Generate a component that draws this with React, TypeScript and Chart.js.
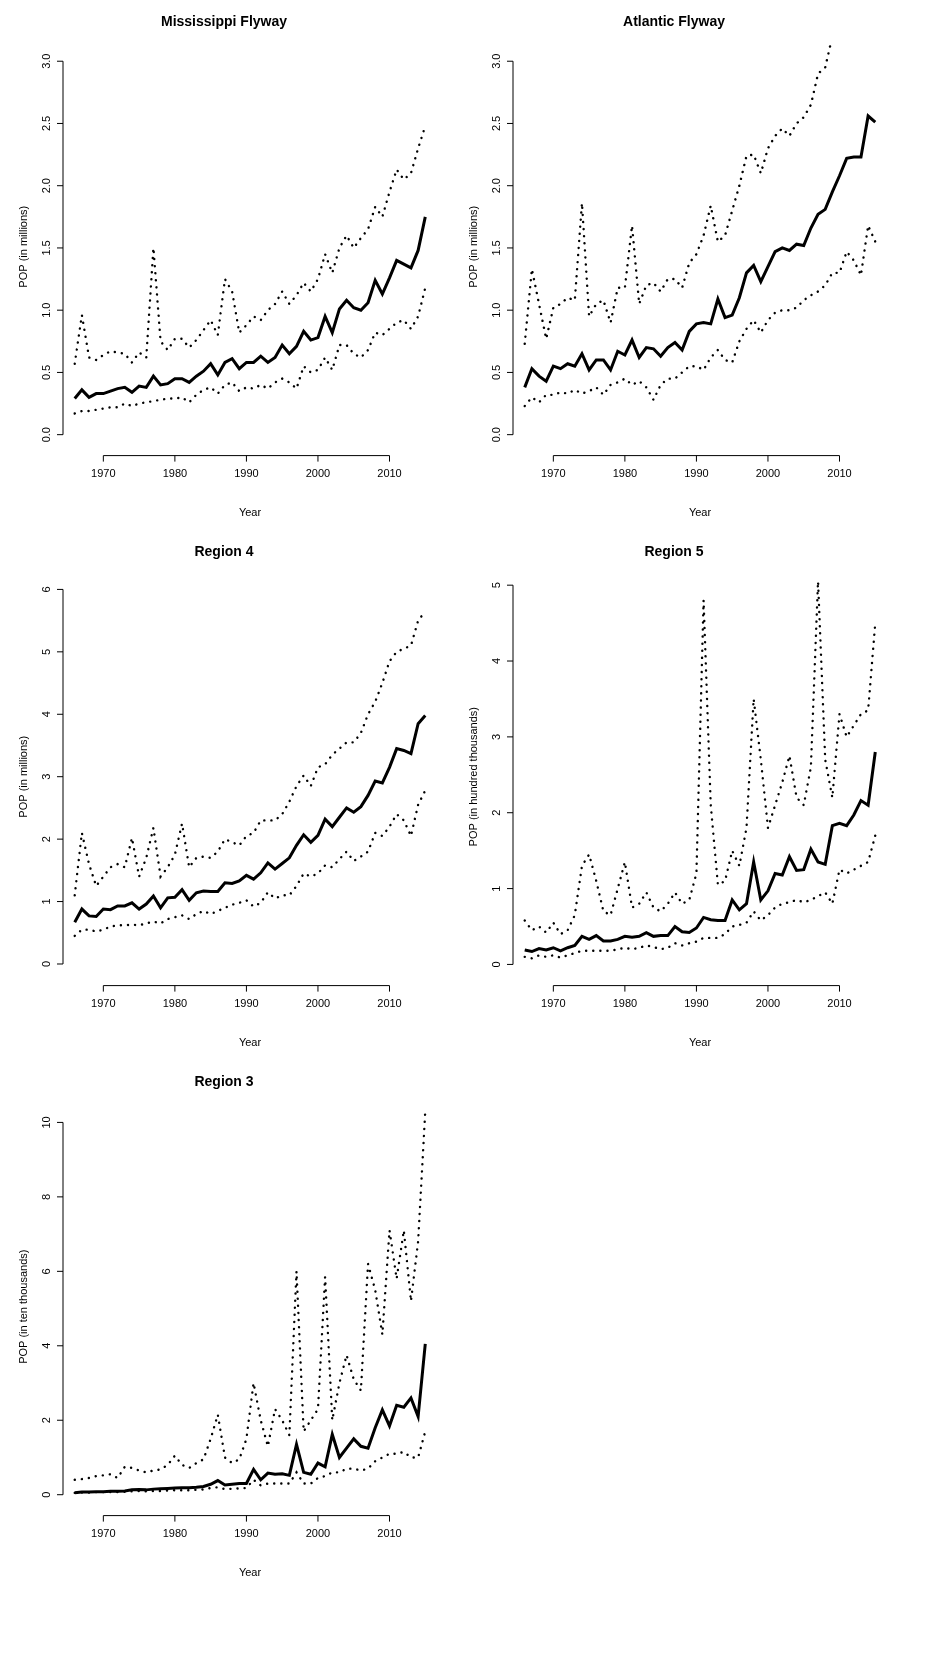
import { useEffect, useRef } from "react"
import { Chart, registerables } from "chart.js"

Chart.register(...registerables)

const years = Array.from({ length: 50 }, (_, i) => 1966 + i)
const yearTicks = [1970, 1980, 1990, 2000, 2010]

const missEst = [0.29, 0.36, 0.3, 0.33, 0.33, 0.35, 0.37, 0.38, 0.34, 0.39, 0.38, 0.47, 0.4, 0.41, 0.45, 0.45, 0.42, 0.47, 0.51, 0.57, 0.48, 0.58, 0.61, 0.53, 0.58, 0.58, 0.63, 0.58, 0.62, 0.72, 0.65, 0.71, 0.83, 0.76, 0.78, 0.95, 0.82, 1.01, 1.08, 1.02, 1.0, 1.06, 1.24, 1.13, 1.26, 1.4, 1.37, 1.34, 1.48, 1.75]
const missHi = [0.57, 0.96, 0.62, 0.6, 0.64, 0.67, 0.66, 0.65, 0.58, 0.66, 0.62, 1.5, 0.75, 0.68, 0.77, 0.77, 0.7, 0.76, 0.84, 0.92, 0.8, 1.25, 1.15, 0.82, 0.88, 0.95, 0.92, 1.0, 1.05, 1.15, 1.05, 1.12, 1.22, 1.15, 1.25, 1.45, 1.3, 1.5, 1.6, 1.5, 1.58, 1.65, 1.83, 1.75, 1.95, 2.13, 2.05, 2.1, 2.3, 2.48]
const missLo = [0.17, 0.19, 0.19, 0.2, 0.21, 0.22, 0.22, 0.25, 0.23, 0.25, 0.26, 0.27, 0.28, 0.29, 0.29, 0.3, 0.26, 0.32, 0.36, 0.38, 0.33, 0.4, 0.42, 0.35, 0.38, 0.37, 0.4, 0.37, 0.42, 0.45, 0.42, 0.37, 0.55, 0.5, 0.52, 0.62, 0.52, 0.72, 0.72, 0.65, 0.62, 0.68, 0.82, 0.8, 0.85, 0.9, 0.92, 0.85, 0.95, 1.18]

const atlEst = [0.38, 0.53, 0.47, 0.43, 0.55, 0.53, 0.57, 0.55, 0.65, 0.52, 0.6, 0.6, 0.52, 0.67, 0.64, 0.76, 0.62, 0.7, 0.69, 0.63, 0.7, 0.74, 0.68, 0.83, 0.89, 0.9, 0.89, 1.09, 0.94, 0.96, 1.1, 1.3, 1.36, 1.23, 1.35, 1.47, 1.5, 1.48, 1.53, 1.52, 1.66, 1.77, 1.81, 1.95, 2.08, 2.22, 2.23, 2.23, 2.56, 2.51]
const atlHi = [0.73, 1.33, 1.05, 0.77, 1.02, 1.05, 1.1, 1.08, 1.86, 0.95, 1.05, 1.08, 0.9, 1.18, 1.18, 1.68, 1.05, 1.2, 1.22, 1.15, 1.25, 1.25, 1.18, 1.38, 1.45, 1.6, 1.84, 1.55, 1.6, 1.8, 2.0, 2.24, 2.25, 2.1, 2.3, 2.4, 2.46, 2.4, 2.5, 2.55, 2.65, 2.9, 2.95, 3.2, 3.4, 3.6, 3.7, 3.8, 3.9, 4.0]
const atlLo = [0.23, 0.3, 0.26, 0.32, 0.32, 0.34, 0.33, 0.36, 0.33, 0.35, 0.38, 0.32, 0.4, 0.42, 0.45, 0.4, 0.43, 0.38, 0.28, 0.4, 0.45, 0.45, 0.5, 0.55, 0.55, 0.52, 0.62, 0.68, 0.6, 0.58, 0.75, 0.85, 0.92, 0.82, 0.92, 0.98, 1.0, 1.0, 1.02, 1.08, 1.12, 1.15, 1.2, 1.3, 1.3, 1.47, 1.4, 1.28, 1.68, 1.55]

const r4Est = [0.67, 0.88, 0.77, 0.76, 0.88, 0.87, 0.93, 0.93, 0.98, 0.88, 0.96, 1.09, 0.9, 1.06, 1.07, 1.19, 1.02, 1.14, 1.17, 1.16, 1.16, 1.3, 1.29, 1.33, 1.42, 1.36, 1.46, 1.62, 1.52, 1.61, 1.7, 1.9, 2.07, 1.95, 2.06, 2.32, 2.2, 2.35, 2.5, 2.43, 2.52, 2.7, 2.93, 2.9, 3.15, 3.45, 3.42, 3.37, 3.85, 3.98]
const r4Hi = [1.1, 2.1, 1.6, 1.25, 1.4, 1.55, 1.6, 1.55, 2.02, 1.4, 1.7, 2.18, 1.4, 1.55, 1.75, 2.25, 1.55, 1.7, 1.72, 1.7, 1.8, 2.0, 1.95, 1.9, 2.05, 2.1, 2.3, 2.3, 2.3, 2.4, 2.6, 2.85, 3.02, 2.85, 3.15, 3.2, 3.35, 3.45, 3.55, 3.55, 3.7, 4.0, 4.2, 4.5, 4.85, 5.0, 5.05, 5.1, 5.5, 5.65]
const r4Lo = [0.45, 0.55, 0.55, 0.52, 0.55, 0.6, 0.62, 0.62, 0.63, 0.62, 0.65, 0.68, 0.65, 0.72, 0.75, 0.78, 0.72, 0.8, 0.85, 0.8, 0.85, 0.9, 0.95, 0.98, 1.02, 0.92, 0.98, 1.15, 1.05, 1.1, 1.1, 1.25, 1.45, 1.4, 1.45, 1.58, 1.55, 1.68, 1.8, 1.65, 1.72, 1.8, 2.1, 2.05, 2.2, 2.4, 2.3, 2.05, 2.55, 2.78]

const r5Est = [0.19, 0.17, 0.21, 0.19, 0.22, 0.18, 0.22, 0.25, 0.37, 0.33, 0.38, 0.31, 0.31, 0.33, 0.37, 0.36, 0.37, 0.42, 0.37, 0.38, 0.38, 0.5, 0.43, 0.42, 0.48, 0.62, 0.59, 0.58, 0.58, 0.85, 0.72, 0.8, 1.35, 0.85, 0.97, 1.2, 1.18, 1.42, 1.24, 1.25, 1.52, 1.35, 1.32, 1.83, 1.86, 1.83, 1.97, 2.16, 2.1, 2.8]
const r5Hi = [0.58, 0.45, 0.5, 0.42, 0.55, 0.4, 0.45, 0.65, 1.3, 1.45, 1.1, 0.7, 0.65, 1.0, 1.35, 0.75, 0.8, 0.95, 0.75, 0.7, 0.8, 0.95, 0.8, 0.85, 1.2, 4.8, 2.1, 1.05, 1.1, 1.5, 1.3, 1.8, 3.5, 2.7, 1.8, 2.1, 2.4, 2.75, 2.2, 2.1, 2.6, 5.05, 2.7, 2.2, 3.3, 3.0, 3.15, 3.3, 3.35, 4.5]
const r5Lo = [0.1, 0.08, 0.12, 0.1, 0.12, 0.09, 0.12, 0.15, 0.18, 0.18, 0.18, 0.18, 0.18, 0.2, 0.22, 0.2, 0.22, 0.25, 0.23, 0.2, 0.22, 0.28, 0.25, 0.28, 0.3, 0.35, 0.35, 0.35, 0.4, 0.5, 0.52, 0.55, 0.7, 0.58, 0.65, 0.75, 0.8, 0.82, 0.85, 0.82, 0.85, 0.9, 0.95, 0.8, 1.25, 1.2, 1.25, 1.3, 1.35, 1.7]

const r3Est = [0.05, 0.07, 0.07, 0.08, 0.08, 0.09, 0.09, 0.1, 0.13, 0.14, 0.13, 0.15, 0.16, 0.17, 0.18, 0.19, 0.19, 0.2, 0.22, 0.28, 0.38, 0.26, 0.28, 0.3, 0.3, 0.68, 0.4, 0.58, 0.55, 0.56, 0.52, 1.35, 0.6, 0.55, 0.85, 0.75, 1.62, 1.0, 1.25, 1.5, 1.3, 1.25, 1.8, 2.28, 1.85, 2.4, 2.35, 2.6, 2.1, 4.05]
const r3Hi = [0.4, 0.42, 0.45, 0.5, 0.52, 0.55, 0.45, 0.75, 0.72, 0.65, 0.6, 0.65, 0.68, 0.8, 1.05, 0.8, 0.72, 0.85, 0.95, 1.5, 2.15, 1.0, 0.85, 0.95, 1.5, 3.0, 2.0, 1.3, 2.3, 2.0, 1.6, 6.0, 1.7, 2.0, 2.3, 5.85, 2.0, 3.0, 3.75, 3.1, 2.8, 6.2, 5.5, 4.3, 7.1, 5.8, 7.1, 5.2, 6.8, 10.3]
const r3Lo = [0.05, 0.06, 0.06, 0.07, 0.07, 0.07, 0.07, 0.08, 0.09, 0.1, 0.09, 0.1, 0.1, 0.11, 0.12, 0.12, 0.12, 0.13, 0.14, 0.18, 0.2, 0.15, 0.16, 0.17, 0.18, 0.4, 0.25, 0.3, 0.3, 0.3, 0.3, 0.6, 0.3, 0.3, 0.45, 0.5, 0.6, 0.6, 0.7, 0.7, 0.65, 0.7, 0.9, 1.0, 1.1, 1.1, 1.15, 1.0, 1.0, 1.7]

const FONT = "'Liberation Sans', Arial, sans-serif"

interface PanelProps {
  title: string
  ylabel: string
  est: number[]
  hi: number[]
  lo: number[]
  ymin: number
  ymax: number
  yticks: number[]
  digits: number
}

// R-style detached axes with rotated y labels
const rAxes = {
  id: "rAxes",
  afterDraw(chart: any, _args: any, opts: any) {
    const { ctx, chartArea, scales } = chart
    const x = scales.x
    const y = scales.y
    ctx.save()
    ctx.strokeStyle = "#000"
    ctx.fillStyle = "#000"
    ctx.lineWidth = 1
    ctx.font = `11px ${FONT}`
    const ax = chartArea.left - 6
    const t0 = y.getPixelForValue(opts.yticks[0])
    const t1 = y.getPixelForValue(opts.yticks[opts.yticks.length - 1])
    ctx.beginPath()
    ctx.moveTo(ax, t0)
    ctx.lineTo(ax, t1)
    opts.yticks.forEach((v: number) => {
      const p = y.getPixelForValue(v)
      ctx.moveTo(ax, p)
      ctx.lineTo(ax - 6, p)
    })
    const ay = chartArea.bottom + 6
    const x0 = x.getPixelForValue(yearTicks[0])
    const x1 = x.getPixelForValue(yearTicks[yearTicks.length - 1])
    ctx.moveTo(x0, ay)
    ctx.lineTo(x1, ay)
    yearTicks.forEach((v) => {
      const p = x.getPixelForValue(v)
      ctx.moveTo(p, ay)
      ctx.lineTo(p, ay + 6)
    })
    ctx.stroke()
    opts.yticks.forEach((v: number) => {
      const p = y.getPixelForValue(v)
      ctx.save()
      ctx.translate(ax - 16, p)
      ctx.rotate(-Math.PI / 2)
      ctx.textAlign = "center"
      ctx.textBaseline = "middle"
      ctx.fillText(v.toFixed(opts.digits), 0, 0)
      ctx.restore()
    })
    ctx.restore()
  },
}

function Panel({ title, ylabel, est, hi, lo, ymin, ymax, yticks, digits }: PanelProps) {
  const ref = useRef<HTMLCanvasElement>(null)

  useEffect(() => {
    if (!ref.current) return
    const dotted = {
      borderColor: "#000",
      borderWidth: 2.4,
      borderDash: [0.1, 7],
      borderCapStyle: "round" as const,
      pointRadius: 0,
      tension: 0,
    }
    const chart = new Chart(ref.current, {
      type: "line",
      data: {
        datasets: [
          { data: years.map((yr, i) => ({ x: yr, y: hi[i] })), ...dotted },
          { data: years.map((yr, i) => ({ x: yr, y: lo[i] })), ...dotted },
          {
            data: years.map((yr, i) => ({ x: yr, y: est[i] })),
            borderColor: "#000",
            borderWidth: 3,
            pointRadius: 0,
            tension: 0,
          },
        ],
      },
      plugins: [rAxes],
      options: {
        animation: false,
        responsive: false,
        layout: { padding: { top: 2, right: 25, left: 9, bottom: 14 } },
        scales: {
          x: {
            type: "linear",
            min: 1965.2,
            max: 2015.8,
            grid: { display: false },
            border: { display: false },
            afterBuildTicks: (s: any) => {
              s.ticks = yearTicks.map((v) => ({ value: v }))
            },
            ticks: {
              padding: 10,
              color: "#000",
              font: { family: FONT, size: 11 },
              maxRotation: 0,
              callback: (v: any) => String(v),
            },
            title: { display: true, text: "Year", color: "#000", font: { family: FONT, size: 11 }, padding: { top: 16 } },
          },
          y: {
            min: ymin,
            max: ymax,
            grid: { display: false },
            border: { display: false },
            ticks: { display: false },
            afterFit: (s: any) => {
              s.width = 52
            },
            title: { display: true, text: ylabel, color: "#000", font: { family: FONT, size: 11 }, padding: 0 },
          },
        },
        plugins: {
          legend: { display: false },
          tooltip: { enabled: false },
          title: { display: true, text: title, color: "#000", font: { family: FONT, size: 14, weight: "bold" }, padding: { top: 4, bottom: 13 } },
          rAxes: { yticks, digits },
        } as any,
      },
    })
    return () => chart.destroy()
  }, [])

  return <canvas ref={ref} width={448} height={530} style={{ display: "block" }} />
}

export default function App() {
  return (
    <div style={{ display: "grid", gridTemplateColumns: "448px 448px", columnGap: 2, background: "#fff" }}>
      <Panel title="Mississippi Flyway" ylabel="POP (in millions)" est={missEst} hi={missHi} lo={missLo} ymin={-0.12} ymax={3.14} yticks={[0, 0.5, 1, 1.5, 2, 2.5, 3]} digits={1} />
      <Panel title="Atlantic Flyway" ylabel="POP (in millions)" est={atlEst} hi={atlHi} lo={atlLo} ymin={-0.12} ymax={3.14} yticks={[0, 0.5, 1, 1.5, 2, 2.5, 3]} digits={1} />
      <Panel title="Region 4" ylabel="POP (in millions)" est={r4Est} hi={r4Hi} lo={r4Lo} ymin={-0.25} ymax={6.25} yticks={[0, 1, 2, 3, 4, 5, 6]} digits={0} />
      <Panel title="Region 5" ylabel="POP (in hundred thousands)" est={r5Est} hi={r5Hi} lo={r5Lo} ymin={-0.2} ymax={5.15} yticks={[0, 1, 2, 3, 4, 5]} digits={0} />
      <Panel title="Region 3" ylabel="POP (in ten thousands)" est={r3Est} hi={r3Hi} lo={r3Lo} ymin={-0.4} ymax={10.5} yticks={[0, 2, 4, 6, 8, 10]} digits={0} />
    </div>
  )
}
